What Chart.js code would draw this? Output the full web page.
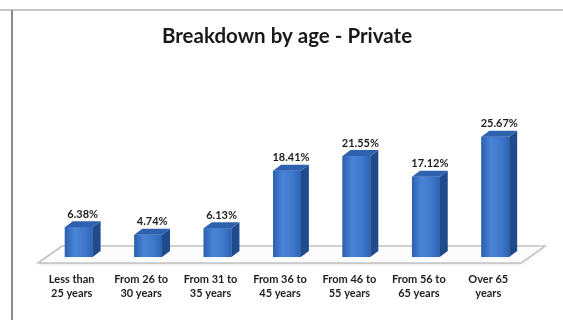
<!DOCTYPE html>
<html>
<head>
<meta charset="utf-8">
<script src="https://cdn.jsdelivr.net/npm/chart.js@4.4.1/dist/chart.umd.min.js"></script>
<style>
  html, body { margin: 0; padding: 0; background: #ffffff; }
  #wrap { width: 563px; height: 320px; position: relative; }
</style>
</head>
<body>
<div id="wrap"><canvas id="chart" width="563" height="320"></canvas></div>
<script>
// Age groups (two-line tick labels) and the share of each group, in percent
const ageGroups = [
  ['Less than', '25 years'],
  ['From 26 to', '30 years'],
  ['From 31 to', '35 years'],
  ['From 36 to', '45 years'],
  ['From 46 to', '55 years'],
  ['From 56 to', '65 years'],
  ['Over 65', 'years']
];
const sharePct = [6.38, 4.74, 6.13, 18.41, 21.55, 17.12, 25.67];
const chartTitle = 'Breakdown by age - Private';

const FONT = 'Lato, "Open Sans", sans-serif';
const DEPTH_X = 8;   // 3D box depth, horizontal
const DEPTH_Y = 6;   // 3D box depth, vertical

// White page with the thin frame lines along the top and left
const pagePlugin = {
  id: 'page',
  beforeDraw(chart) {
    const { ctx, width, height } = chart;
    ctx.save();
    ctx.fillStyle = '#ffffff';
    ctx.fillRect(0, 0, width, height);
    ctx.fillStyle = '#c6c6c6';
    ctx.fillRect(0, 9, width, 2);
    ctx.fillStyle = '#8a8a8a';
    ctx.fillRect(11, 10, 2, height - 10);
    ctx.restore();
  }
};

// Perspective floor under the bars
const floorPlugin = {
  id: 'floor',
  beforeDatasetsDraw(chart) {
    const { ctx, chartArea: a, scales: { y } } = chart;
    const y0 = y.getPixelForValue(0);
    const frontY = y0 + 6, backY = y0 - 11;
    const fl = a.left - 6, fr = a.right - 9, shift = 24;
    ctx.save();
    ctx.beginPath();
    ctx.moveTo(fl, frontY);
    ctx.lineTo(fr, frontY);
    ctx.lineTo(fr + shift, backY);
    ctx.lineTo(fl + shift, backY);
    ctx.closePath();
    ctx.fillStyle = '#fcfcfc';
    ctx.shadowColor = 'rgba(0,0,0,0.18)';
    ctx.shadowBlur = 3;
    ctx.shadowOffsetY = 1;
    ctx.fill();
    ctx.shadowColor = 'transparent';
    ctx.strokeStyle = '#c2c2c2';
    ctx.lineWidth = 1.5;
    ctx.stroke();
    ctx.restore();
  }
};

// Shading, side and top faces of each bar, then the value label
const boxPlugin = {
  id: 'box3d',
  afterDatasetsDraw(chart) {
    const { ctx } = chart;
    const meta = chart.getDatasetMeta(0);
    ctx.save();
    meta.data.forEach((bar, i) => {
      const { x, y, base, width } = bar.getProps(['x', 'y', 'base', 'width'], true);
      const l = x - width / 2, r = x + width / 2;

      const g = ctx.createLinearGradient(l, 0, r, 0);
      g.addColorStop(0, '#2c5fae');
      g.addColorStop(0.35, '#4a84d6');
      g.addColorStop(0.7, '#3f78cb');
      g.addColorStop(1, '#2f63b4');
      ctx.fillStyle = g;
      ctx.fillRect(l, y, width, base - y);

      ctx.beginPath();
      ctx.moveTo(r, y);
      ctx.lineTo(r + DEPTH_X, y - DEPTH_Y);
      ctx.lineTo(r + DEPTH_X, base - DEPTH_Y);
      ctx.lineTo(r, base);
      ctx.closePath();
      ctx.fillStyle = '#1f4b8c';
      ctx.fill();

      ctx.beginPath();
      ctx.moveTo(l, y);
      ctx.lineTo(r, y);
      ctx.lineTo(r + DEPTH_X, y - DEPTH_Y);
      ctx.lineTo(l + DEPTH_X, y - DEPTH_Y);
      ctx.closePath();
      ctx.fillStyle = '#2f62ae';
      ctx.fill();

      ctx.fillStyle = '#1e1e1e';
      ctx.font = 'bold 11px ' + FONT;
      ctx.textAlign = 'center';
      ctx.textBaseline = 'middle';
      ctx.fillText(sharePct[i].toFixed(2) + '%', x + 4, y - 13);
    });
    ctx.restore();
  }
};

new Chart(document.getElementById('chart'), {
  type: 'bar',
  data: {
    labels: ageGroups,
    datasets: [{
      data: sharePct,
      backgroundColor: '#3a73cc',
      borderWidth: 0,
      barPercentage: 0.4,
      categoryPercentage: 1
    }]
  },
  options: {
    responsive: false,
    animation: false,
    devicePixelRatio: 1,
    layout: { padding: { left: 44, right: 33, top: 0, bottom: 5 } },
    plugins: {
      legend: { display: false },
      tooltip: { enabled: false },
      title: {
        display: true,
        text: chartTitle,
        color: '#1a1a1a',
        font: { family: FONT, size: 20.5, weight: 'bold', lineHeight: 1.2 },
        padding: { top: 24, bottom: 21 }
      }
    },
    scales: {
      x: {
        grid: { display: false, drawTicks: false },
        border: { display: false },
        ticks: {
          color: '#1e1e1e',
          font: { family: FONT, size: 11, weight: 'bold', lineHeight: 1.27 },
          padding: 15,
          labelOffset: -7,
          maxRotation: 0,
          autoSkip: false
        }
      },
      y: {
        display: false,
        min: 0,
        max: 40
      }
    }
  },
  plugins: [pagePlugin, floorPlugin, boxPlugin]
});
</script>
</body>
</html>
